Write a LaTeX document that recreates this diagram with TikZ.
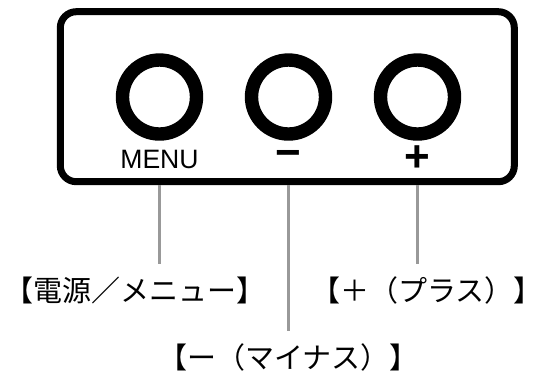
\documentclass[tikz,border=0pt]{standalone}
\usepackage{fontspec}
\setmainfont{Liberation Sans}
\newfontfamily\cjk{Noto Sans CJK JP}
\usetikzlibrary{positioning,calc}
\tikzset{%
	panel/.style    = {draw, rectangle, rounded corners=8pt, line width=3.5pt, minimum width=227pt, minimum height=85pt},
	knob/.style     = {draw, circle, line width=6.7pt, minimum size=37pt, inner sep=0pt}, % Button
	keytext/.style  = {font=\fontsize{13.3}{15}\selectfont, inner sep=0pt}, % Printed name
	keysign/.style  = {font=\bfseries\fontsize{22}{24}\selectfont, inner sep=0pt}, % Printed sign
	callout/.style  = {font=\cjk\fontsize{14.5}{17}\selectfont, inner sep=0pt}, % Caption
	leader/.style   = {draw=black!40, line width=1.5pt, shorten >=6pt}, % Leader line
}
\begin{document}
\begin{tikzpicture}[x=0.5pt,y=-0.5pt,node distance=64.5pt]
		\useasboundingbox (0,0) rectangle (544,377);
		\node [panel] (panel) at (287.3,96.7) {};
		\node [knob] (knobmenu) at (159.5,97) {};
		\node [knob] (knobminus) [right of=knobmenu] {};
		\node [knob] (knobplus) [right of=knobminus] {};
		\node [keytext] (txtmenu) [below of=knobmenu,node distance=31pt] {MENU};
		\node [keysign] (txtminus) [below of=knobminus,node distance=31pt] {−};
		\node [keysign] (txtplus) [below of=knobplus,node distance=31pt] {+};
		\node [callout] (lblpower) at (135,290) {【電源／メニュー】};
		\node [callout] (lblplus) at (427,290) {【＋（プラス）】};
		\node [callout] (lblminus) [below of=knobminus,node distance=130pt] {【ー（マイナス）】};
		
		\draw[leader] (knobmenu |- panel.south) -- (knobmenu |- lblpower.north);
		\draw[leader] (knobminus |- panel.south) -- (knobminus |- lblminus.north);
		\draw[leader] (knobplus |- panel.south) -- (knobplus |- lblplus.north);
	\end{tikzpicture}
\end{document}
